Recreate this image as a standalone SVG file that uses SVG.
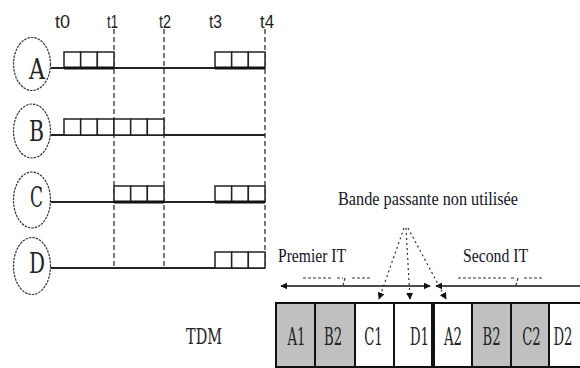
<svg xmlns="http://www.w3.org/2000/svg" width="580" height="368" viewBox="0 0 580 368">
<defs>
<style>
.ln{stroke:#222;stroke-width:2;fill:none}
.thk{stroke:#111;stroke-width:3;fill:none}
.box{fill:#fff;stroke:#222;stroke-width:1.5}
.vd{stroke:#222;stroke-width:1.2;stroke-dasharray:5 3;fill:none}
.ell{fill:#fff;stroke:#333;stroke-width:1.2;stroke-dasharray:2.5 1}
.lt{font-family:"DejaVu Serif","Liberation Serif",serif;fill:#222}
.cl{font-family:"DejaVu Serif","Liberation Serif",serif;font-size:24px;fill:#222;text-anchor:middle}
.tl{font-family:"Liberation Sans",sans-serif;font-size:19px;fill:#222}
.cap{font-family:"Liberation Serif",serif;fill:#141428}
.cell{stroke:#111;stroke-width:2}
.g{fill:#c0c0c0}
.w{fill:#fff}
.dot{stroke:#333;stroke-width:1.2;stroke-dasharray:2 3;fill:none}
.br{stroke:#333;stroke-width:1.2;stroke-dasharray:3 2;fill:none}
.ar{stroke:#111;stroke-width:1.6;fill:none}
</style>
<marker id="ah" viewBox="0 0 10 10" refX="9" refY="5" markerWidth="7" markerHeight="7" markerUnits="userSpaceOnUse" orient="auto-start-reverse">
<path d="M0,0 L10,5 L0,10 Z" fill="#111"/>
</marker>
</defs>

<g id="time-labels">
<text class="tl" x="55" y="28" textLength="15" lengthAdjust="spacingAndGlyphs">t0</text>
<text class="tl" x="107" y="28" textLength="11" lengthAdjust="spacingAndGlyphs">t1</text>
<text class="tl" x="159" y="28" textLength="12" lengthAdjust="spacingAndGlyphs">t2</text>
<text class="tl" x="209" y="28" textLength="13" lengthAdjust="spacingAndGlyphs">t3</text>
<text class="tl" x="260" y="28" textLength="14" lengthAdjust="spacingAndGlyphs">t4</text>
</g>

<g id="time-marks">
<line class="vd" x1="114" y1="29" x2="114" y2="268"/>
<line class="vd" x1="164" y1="29" x2="164" y2="268"/>
<line class="vd" x1="265" y1="29" x2="265" y2="268"/>
</g>

<g id="A">
<ellipse class="ell" cx="32" cy="64" rx="18.5" ry="26.5"/>
<text class="lt" x="29" y="79" font-size="28" textLength="16" lengthAdjust="spacingAndGlyphs">A</text>
<line class="ln" x1="51" y1="68" x2="265" y2="68"/>
<rect class="box" x="64" y="52" width="16.67" height="16"/>
<rect class="box" x="80.67" y="52" width="16.67" height="16"/>
<rect class="box" x="97.33" y="52" width="16.67" height="16"/>
<rect class="box" x="215" y="52" width="16.67" height="16"/>
<rect class="box" x="231.67" y="52" width="16.67" height="16"/>
<rect class="box" x="248.33" y="52" width="16.67" height="16"/>
<line class="thk" x1="64" y1="68" x2="114" y2="68"/>
<line class="thk" x1="215" y1="68" x2="265" y2="68"/>
</g>

<g id="B">
<ellipse class="ell" cx="32" cy="131" rx="18.5" ry="27"/>
<text class="lt" x="29" y="141" font-size="28" textLength="15" lengthAdjust="spacingAndGlyphs">B</text>
<line class="ln" x1="51" y1="135" x2="265" y2="135"/>
<rect class="box" x="64" y="119" width="16.67" height="16"/>
<rect class="box" x="80.67" y="119" width="16.67" height="16"/>
<rect class="box" x="97.33" y="119" width="16.67" height="16"/>
<rect class="box" x="114" y="119" width="16.67" height="16"/>
<rect class="box" x="130.67" y="119" width="16.67" height="16"/>
<rect class="box" x="147.33" y="119" width="16.67" height="16"/>
</g>

<g id="C">
<ellipse class="ell" cx="32" cy="200" rx="18.5" ry="28"/>
<text class="lt" x="30" y="207" font-size="28" textLength="13" lengthAdjust="spacingAndGlyphs">C</text>
<line class="ln" x1="51" y1="202" x2="265" y2="202"/>
<rect class="box" x="114" y="186" width="16.67" height="16"/>
<rect class="box" x="130.67" y="186" width="16.67" height="16"/>
<rect class="box" x="147.33" y="186" width="16.67" height="16"/>
<rect class="box" x="215" y="186" width="16.67" height="16"/>
<rect class="box" x="231.67" y="186" width="16.67" height="16"/>
<rect class="box" x="248.33" y="186" width="16.67" height="16"/>
<line class="thk" x1="114" y1="202" x2="164" y2="202"/>
<line class="thk" x1="215" y1="202" x2="265" y2="202"/>
</g>

<g id="D">
<ellipse class="ell" cx="32" cy="266" rx="18.5" ry="28.5"/>
<text class="lt" x="29" y="273" font-size="28" textLength="16" lengthAdjust="spacingAndGlyphs">D</text>
<line class="ln" x1="51" y1="268" x2="265" y2="268"/>
<rect class="box" x="215" y="252" width="16.67" height="16"/>
<rect class="box" x="231.67" y="252" width="16.67" height="16"/>
<rect class="box" x="248.33" y="252" width="16.67" height="16"/>
</g>

<g id="captions">
<text class="cap" x="338" y="205" font-size="18" textLength="180" lengthAdjust="spacingAndGlyphs">Bande passante non utilisée</text>
<text class="cap" x="278" y="262" font-size="19" textLength="68" lengthAdjust="spacingAndGlyphs">Premier IT</text>
<text class="cap" x="463" y="262" font-size="19" textLength="65" lengthAdjust="spacingAndGlyphs">Second IT</text>
<text class="lt" x="186" y="344" font-size="23" textLength="36" lengthAdjust="spacingAndGlyphs">TDM</text>
</g>

<g id="connectors">
<line class="ar" x1="281" y1="286" x2="430" y2="286" marker-start="url(#ah)" marker-end="url(#ah)"/>
<line class="ar" x1="436" y1="286" x2="585" y2="286" marker-start="url(#ah)"/>
<path class="br" d="M303 278 H331 M337 278 H343 M352 278 H370"/>
<path class="br" d="M345 278 L343 285" stroke-dasharray="none"/>
<path class="br" d="M458 278 H506 M511 278 H514 M524 278 H543"/>
<path class="br" d="M518 278 L516 285" stroke-dasharray="none"/>
<line class="dot" x1="404" y1="228" x2="379" y2="299" marker-end="url(#ah)"/>
<line class="dot" x1="406" y1="228" x2="410" y2="299" marker-end="url(#ah)"/>
<line class="dot" x1="408" y1="228" x2="446" y2="299" marker-end="url(#ah)"/>
</g>

<g id="tdm">
<rect class="cell g" x="276" y="303" width="39" height="64"/>
<rect class="cell g" x="315" y="303" width="40" height="64"/>
<rect class="cell w" x="355" y="303" width="39" height="64"/>
<rect class="cell w" x="394" y="303" width="38" height="64"/>
<rect class="cell w" x="434" y="303" width="38" height="64"/>
<rect class="cell g" x="472" y="303" width="39" height="64"/>
<rect class="cell g" x="511" y="303" width="38" height="64"/>
<rect class="cell w" x="549" y="303" width="40" height="64"/>
<text class="cl" transform="translate(296.5,345) scale(0.55,1)">A1</text>
<text class="cl" transform="translate(333,345) scale(0.55,1)">B2</text>
<text class="cl" transform="translate(373.5,345) scale(0.55,1)">C1</text>
<text class="cl" transform="translate(419.5,345) scale(0.55,1)">D1</text>
<text class="cl" transform="translate(453,345) scale(0.55,1)">A2</text>
<text class="cl" transform="translate(491.5,345) scale(0.55,1)">B2</text>
<text class="cl" transform="translate(531.5,345) scale(0.55,1)">C2</text>
<text class="cl" transform="translate(563,345) scale(0.55,1)">D2</text>
</g>
</svg>
